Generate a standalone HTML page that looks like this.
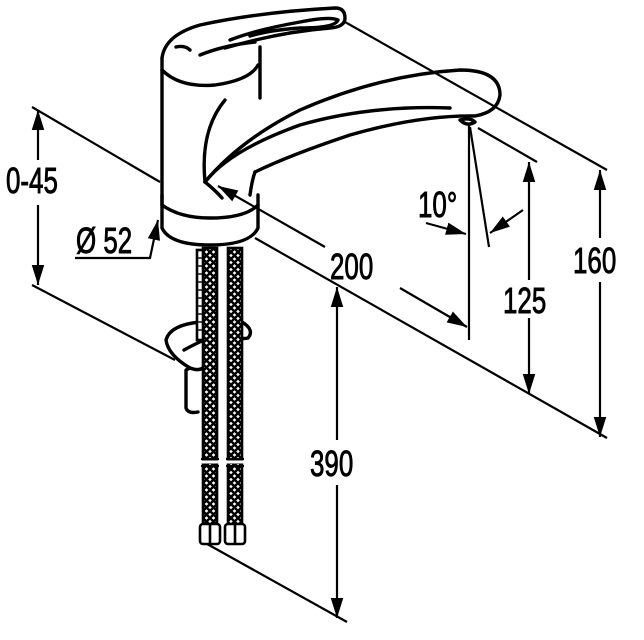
<!DOCTYPE html>
<html><head><meta charset="utf-8"><style>
html,body{margin:0;padding:0;background:#fff;width:644px;height:640px;overflow:hidden}
svg{display:block}
text{font-family:"Liberation Sans",sans-serif;font-size:36px;fill:#000;stroke:#000;stroke-width:0.9}
</style></head><body>
<svg width="644" height="640" viewBox="0 0 644 640" xmlns="http://www.w3.org/2000/svg">
<defs>
<marker id="b" viewBox="0 0 16 10" refX="16" refY="5" markerWidth="20" markerHeight="13" orient="auto-start-reverse" markerUnits="userSpaceOnUse">
<path d="M0,0 L16,5 L0,10 Z" fill="#000"/></marker>
<pattern id="braid" width="7" height="7" patternUnits="userSpaceOnUse">
<rect width="7" height="7" fill="#fff"/>
<path d="M0,0 L7,7 M7,0 L0,7" stroke="#000" stroke-width="2.4"/>
</pattern>
</defs>
<g stroke="#000" fill="none" stroke-width="2.2">
<line x1="32" y1="107" x2="160" y2="182"/>
<line x1="32" y1="285" x2="175" y2="360"/>
<line x1="345" y1="22" x2="607" y2="170"/>
<line x1="478" y1="128" x2="537" y2="162"/>
<line x1="255" y1="238" x2="607" y2="438"/>
<line x1="200" y1="540" x2="347" y2="622"/>
<line x1="469" y1="125" x2="469" y2="340"/>
<line x1="470" y1="127" x2="489" y2="247"/>
<line x1="38" y1="110" x2="38" y2="160" marker-start="url(#b)"/>
<line x1="38" y1="205" x2="38" y2="285" marker-end="url(#b)"/>
<line x1="218" y1="186" x2="325" y2="247" marker-start="url(#b)"/>
<line x1="400" y1="288" x2="467" y2="327" marker-end="url(#b)"/>
<line x1="529" y1="162" x2="529" y2="280" marker-start="url(#b)"/>
<line x1="529" y1="318" x2="529" y2="394" marker-end="url(#b)"/>
<line x1="600" y1="170" x2="600" y2="238" marker-start="url(#b)"/>
<line x1="600" y1="282" x2="600" y2="437" marker-end="url(#b)"/>
<line x1="337" y1="287" x2="337" y2="440" marker-start="url(#b)"/>
<line x1="337" y1="485" x2="337" y2="618" marker-end="url(#b)"/>
<line x1="426" y1="223" x2="466" y2="234" marker-end="url(#b)"/>
<line x1="523" y1="210" x2="490" y2="233" marker-end="url(#b)"/>
<polyline points="75,258 150,258 158,220" marker-end="url(#b)"/>
</g>
<g stroke="#000" fill="none" stroke-width="3.4" stroke-linecap="round" stroke-linejoin="round">
<path d="M162,195 L162,228 Q170,245 210,245 Q250,245 258,228 L258,195"/>
<path d="M162,205 Q180,218 210,218 Q245,218 258,205"/>
<path d="M162,205 L162,58"/>
<path d="M260,47 L260,98"/>
<path d="M162,58 Q165,35 200,25 Q260,12 335,8 Q345,8 345,18 Q345,27 330,28 Q280,32 225,48"/>
<path d="M162,70 Q180,88 215,85 Q250,80 258,65"/>
<path d="M200,55 Q225,45 255,42"/>
<path d="M230,40 Q255,30 300,22 Q330,16 338,20 Q335,28 300,28 Q270,30 250,36"/>
<path d="M176,47 Q185,45 190,50"/>
<path d="M205,182 Q240,140 300,110 Q380,75 460,70 Q500,70 500,95 Q498,112 475,116 Q420,115 350,135 Q290,155 255,172"/>
<path d="M205,182 Q230,150 300,125 Q370,105 450,108"/>
<path d="M205,182 Q200,130 225,100"/>
<path d="M205,182 Q215,190 222,198"/>
<path d="M460,120 Q467,127 475,122 Q470,117 460,120"/>
<path d="M255,172 Q252,180 250,195"/>
<path d="M200,322 Q170,325 166,340 Q168,355 190,368 Q200,372 205,366"/>
<path d="M242,322 Q255,330 248,338 Q240,340 232,334"/>
<path d="M190,368 L186,370 L186,408 Q188,414 198,412"/>
<path d="M184,350 Q195,344 204,340"/>
</g>
<g stroke="#000" stroke-width="2.6">
<rect x="197" y="250" width="8" height="90" fill="#fff"/>
<rect x="203" y="248" width="14" height="278" fill="url(#braid)"/>
<rect x="228" y="248" width="14" height="278" fill="url(#braid)"/>
<rect x="200" y="524" width="20" height="20" rx="3" fill="#fff"/>
<rect x="225" y="524" width="20" height="20" rx="3" fill="#fff"/>
<line x1="210" y1="524" x2="210" y2="544"/>
<line x1="235" y1="524" x2="235" y2="544"/>
</g>
<g stroke="#fff" stroke-width="3"><line x1="200" y1="462" x2="246" y2="462"/></g>
<g stroke="#000" stroke-width="2">
<line x1="201" y1="459" x2="219" y2="459"/><line x1="201" y1="466" x2="219" y2="466"/>
<line x1="226" y1="459" x2="244" y2="459"/><line x1="226" y1="466" x2="244" y2="466"/>
</g>
<g stroke="#000" stroke-width="1.4">
<line x1="198" y1="258" x2="205" y2="258"/><line x1="198" y1="266" x2="205" y2="266"/><line x1="198" y1="274" x2="205" y2="274"/><line x1="198" y1="282" x2="205" y2="282"/><line x1="198" y1="290" x2="205" y2="290"/><line x1="198" y1="298" x2="205" y2="298"/><line x1="198" y1="306" x2="205" y2="306"/><line x1="198" y1="314" x2="205" y2="314"/><line x1="198" y1="322" x2="205" y2="322"/><line x1="198" y1="330" x2="205" y2="330"/>
</g>
<g>
<text transform="translate(6,193) scale(0.72,1)">0-45</text>
<text transform="translate(76,253) scale(0.72,1)">Ø 52</text>
<text transform="translate(330,279) scale(0.72,1)">200</text>
<text transform="translate(418,217) scale(0.72,1)">10°</text>
<text transform="translate(503,313) scale(0.72,1)">125</text>
<text transform="translate(573,273) scale(0.72,1)">160</text>
<text transform="translate(310,476) scale(0.72,1)">390</text>
</g>
</svg>
</body></html>
